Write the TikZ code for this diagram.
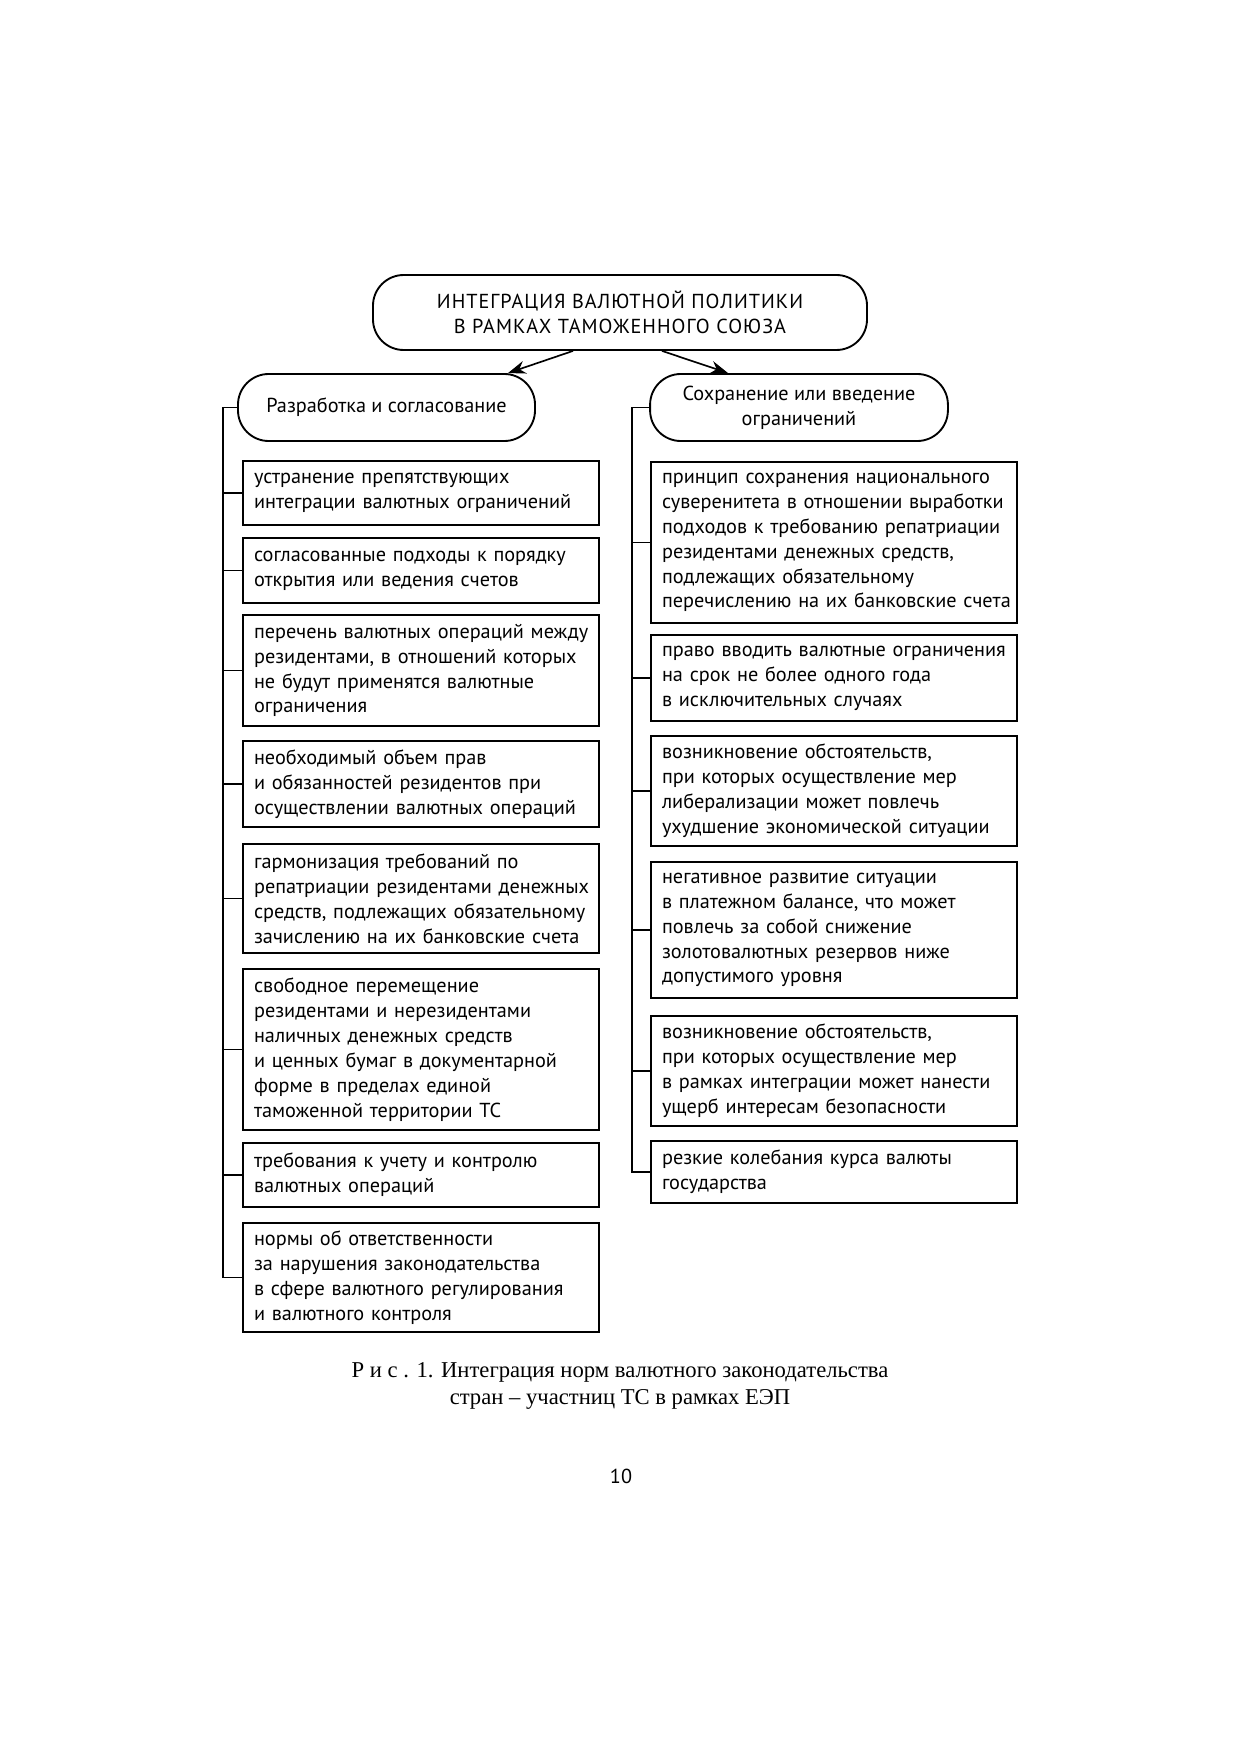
\documentclass[tikz,border=0pt]{standalone}
\usepackage{fontspec}
\setmainfont{Liberation Serif}
\setsansfont{PT Sans}
\usepackage{tikz}
\usetikzlibrary{positioning, calc, arrows.meta}

\tikzset{
  txt/.style={font=\sffamily\fontsize{9.75}{12}\selectfont},
  pill/.style={txt, draw, line width=0.9pt, rounded corners=5.2mm, align=center, inner sep=0pt},
  lbox/.style={txt, draw, line width=1pt, align=left, inner xsep=1.86mm, inner ysep=0.5mm,
    text width=56.5mm, minimum width=60.24mm},
  rbox/.style={txt, draw, line width=1pt, align=left, inner xsep=1.86mm, inner ysep=0.5mm,
    text width=58.2mm, minimum width=61.93mm},
  link/.style={line width=0.8pt},
  arr/.style={line width=0.8pt, -{Stealth[length=3mm, width=2.2mm]}},
}

\begin{document}
\begin{tikzpicture}[x=0.16922mm, y=-0.16922mm]
  \useasboundingbox (0,0) rectangle (1241,1755);

  % head and the two branches
  \node[pill, minimum width=83.6mm, minimum height=12.69mm] (head) at (620,312.5)
    {\addfontfeature{LetterSpace=5}ИНТЕГРАЦИЯ ВАЛЮТНОЙ ПОЛИТИКИ\\
     \addfontfeature{LetterSpace=5}В РАМКАХ ТАМОЖЕННОГО СОЮЗА};
  \node[pill, minimum width=50.26mm, minimum height=11.34mm] (lhead) at (386.5,407.5)
    {Разработка и согласование};
  \node[pill, minimum width=50.4mm, minimum height=11.34mm] (rhead) at (799,407.5)
    {Сохранение или введение\\ограничений};

  \draw[arr] ($(head.south)+(-47,0)$) -- ($(lhead.north)+(121.5,0)$);
  \draw[arr] ($(head.south)+(42,0)$) -- ($(rhead.north)+(-71,0)$);

  % left column
  \node[lbox, minimum height=10.83mm] (l1) at (421,493)
    {устранение препятствующих\\\mbox{интеграции валютных ограничений}};
  \node[lbox, minimum height=11.0mm] (l2) at (421,570.5)
    {\mbox{согласованные подходы к порядку}\\открытия или ведения счетов};
  \node[lbox, minimum height=18.78mm] (l3) at (421,670.5)
    {\mbox{перечень валютных операций между}\\\mbox{резидентами, в отношений которых}\\не будут применятся валютные\\ограничения};
  \node[lbox, minimum height=14.55mm] (l4) at (421,784)
    {необходимый объем прав\\и обязанностей резидентов при\\\mbox{осуществлении валютных операций}};
  \node[lbox, minimum height=18.44mm] (l5) at (421,898.5)
    {гармонизация требований по\\\mbox{репатриации резидентами денежных}\\\mbox{средств, подлежащих обязательному}\\\mbox{зачислению на их банковские счета}};
  \node[lbox, minimum height=27.24mm] (l6) at (421,1049.5)
    {свободное перемещение\\резидентами и нерезидентами\\наличных денежных средств\\\mbox{и ценных бумаг в документарной}\\форме в пределах единой\\таможенной территории ТС};
  \node[lbox, minimum height=10.83mm] (l7) at (421,1175)
    {требования к учету и контролю\\валютных операций};
  \node[lbox, minimum height=18.44mm] (l8) at (421,1277.5)
    {нормы об ответственности\\за нарушения законодательства\\\mbox{в сфере валютного регулирования}\\и валютного контроля};

  % right column
  \node[rbox, minimum height=27.24mm] (r1) at (834,542.5)
    {\mbox{принцип сохранения национального}\\\mbox{суверенитета в отношении выработки}\\\mbox{подходов к требованию репатриации}\\резидентами денежных средств,\\подлежащих обязательному\\\mbox{перечислению на их банковские счета}};
  \node[rbox, minimum height=14.55mm] (r2) at (834,678)
    {\mbox{право вводить валютные ограничения}\\на срок не более одного года\\в исключительных случаях};
  \node[rbox, minimum height=18.61mm] (r3) at (834,791)
    {возникновение обстоятельств,\\при которых осуществление мер\\либерализации может повлечь\\\mbox{ухудшение экономической ситуации}};
  \node[rbox, minimum height=23.01mm] (r4) at (834,930)
    {негативное развитие ситуации\\в платежном балансе, что может\\повлечь за собой снижение\\золотовалютных резервов ниже\\допустимого уровня};
  \node[rbox, minimum height=18.61mm] (r5) at (834,1071)
    {возникновение обстоятельств,\\при которых осуществление мер\\\mbox{в рамках интеграции может нанести}\\ущерб интересам безопасности};
  \node[rbox, minimum height=10.6mm] (r6) at (834,1172)
    {резкие колебания курса валюты\\государства};

  % trunks with stubs
  \coordinate (ltr) at (223,405);
  \coordinate (rtr) at (632,405);
  \draw[link] (lhead.west) -- (lhead.west -| ltr) |- (l8.west);
  \foreach \b in {l1,l2,l3,l4,l5,l6,l7} {\draw[link] (\b.west) -- (\b.west -| ltr);}
  \draw[link] (rhead.west) -- (rhead.west -| rtr) |- (r6.west);
  \foreach \b in {r1,r2,r3,r4,r5} {\draw[link] (\b.west) -- (\b.west -| rtr);}

  % caption and page number
  \node[font=\fontsize{10.9}{13.4}\selectfont, align=center] (cap) at (620,1386)
    {Р и с . 1. Интеграция норм валютного законодательства\\стран – участниц ТС в рамках ЕЭП};
  \node[txt] (page) at (621,1476) {10};
\end{tikzpicture}
\end{document}
